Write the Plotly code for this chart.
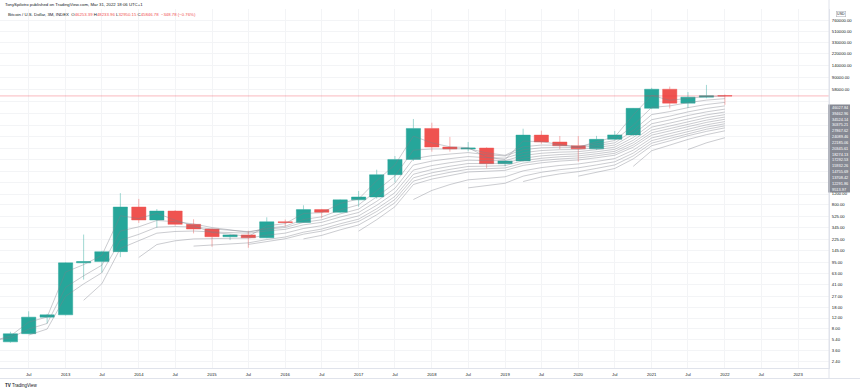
import plotly.graph_objects as go

# ---------------- data (quarterly candles, INDEX BTCUSD) ----------------
quarters = [
    "2012-04-01", "2012-07-01", "2012-10-01",
    "2013-01-01", "2013-04-01", "2013-07-01", "2013-10-01",
    "2014-01-01", "2014-04-01", "2014-07-01", "2014-10-01",
    "2015-01-01", "2015-04-01", "2015-07-01", "2015-10-01",
    "2016-01-01", "2016-04-01", "2016-07-01", "2016-10-01",
    "2017-01-01", "2017-04-01", "2017-07-01", "2017-10-01",
    "2018-01-01", "2018-04-01", "2018-07-01", "2018-10-01",
    "2019-01-01", "2019-04-01", "2019-07-01", "2019-10-01",
    "2020-01-01", "2020-04-01", "2020-07-01", "2020-10-01",
    "2021-01-01", "2021-04-01", "2021-07-01", "2021-10-01",
    "2022-01-01",
]
prior_quarter = "2012-01-01"   # bar just left of the visible area
opens = [4.95, 6.7, 12.4, 13.5, 93, 97.5, 141, 740, 457, 638, 389, 327, 246, 263,
         236, 428, 416, 673, 609, 966, 1074, 2460, 4330, 13700, 6870, 6380, 6620,
         3700, 4100, 10700, 8280, 7200, 6420, 9140, 10780, 28900, 58800, 35050,
         43800, 46253.39]
highs = [7.2, 15.4, 14.0, 95, 266, 146, 1240, 1000, 687, 660, 470, 330, 269, 307,
         505, 465, 789, 690, 980, 1343, 2960, 4920, 19470, 16950, 10000, 8280, 6800,
         4150, 13550, 12600, 10350, 10350, 10400, 12440, 29300, 61800, 64850, 52900,
         69000, 48233.96]
lows = [4.8, 6.6, 9.8, 13.2, 50, 65, 115, 410, 343, 370, 278, 169, 217, 163,
        232, 360, 412, 487, 598, 748, 1010, 1855, 4100, 5780, 5780, 5850, 3120,
        3360, 4050, 7770, 6380, 3990, 6180, 8900, 10370, 28100, 28800, 29300,
        42000, 32950]
closes = [6.7, 12.4, 13.5, 93, 97.5, 141, 740, 457, 638, 389, 327, 246, 263, 236,
          428, 416, 673, 609, 966, 1074, 2460, 4330, 13700, 6870, 6380, 6620, 3700,
          4100, 10700, 8280, 7200, 6420, 9140, 10780, 28900, 58800, 35050, 43800,
          46195.56, 45846.78]

# EMA ribbon (lengths 2, 5, 8, ... 44), values read per bar; each list ends at the last bar
ema2 = [5.09, 6.16, 10.32, 12.44, 66.15, 87.05, 123.0, 534.3, 482.8, 586.3, 454.8, 369.6,
        287.2, 271.1, 247.7, 367.9, 400.0, 582.0, 600.0, 844.0, 997.3, 1972, 3544, 10315,
        8018, 6926, 6722, 4707, 4302, 8568, 8376, 7592, 6811, 8364, 9975, 22592, 46731,
        38944, 42181, 44858, 45517]
ema5 = [5.23, 5.72, 7.95, 9.80, 37.53, 57.52, 85.35, 303.6, 354.7, 449.1, 429.1, 395.1,
        345.4, 317.9, 290.6, 336.4, 362.9, 466.3, 513.9, 664.6, 801.1, 1354, 2346, 6131,
        6377, 6378, 6459, 5539, 5059, 6940, 7386, 7324, 7023, 7729, 8746, 15464, 29909,
        31623, 35682, 39187, 41407]
ema8 = [6.37, 7.96, 26.86, 42.55, 64.43, 214.6, 268.4, 350.6, 359.1, 352.0, 328.4, 313.9,
        296.6, 325.8, 345.8, 418.5, 460.9, 573.1, 684.4, 1079, 1801, 4446, 4984, 5295,
        5589, 5169, 4932, 6214, 6673, 6790, 6708, 7248, 8033, 12670, 22921, 25617, 29657,
        33333, 36114]
ema11 = [23.18, 42.82, 159.0, 208.7, 280.2, 298.4, 303.1, 293.6, 288.5, 279.8, 304.5,
         323.1, 381.4, 419.3, 510.4, 604.4, 913.6, 1483, 3519, 4078, 4461, 4821, 4634,
         4545, 5571, 6023, 6219, 6252, 6734, 7408, 10990, 18958, 21640, 25334, 28811, 31650]
ema14 = [113.8, 183.7, 211.1, 226.5, 229.1, 233.6, 234.0, 259.8, 280.6, 333.0, 369.8,
         449.3, 532.6, 789.6, 1262, 2920, 3447, 3838, 4209, 4141, 4136, 5011, 5447, 5681,
         5779, 6227, 6834, 9776, 16313, 18811, 22143, 25350, 28083]
ema17 = [173.4, 181.4, 190.5, 195.5, 221.4, 243.0, 290.8, 326.1, 397.2, 472.4, 693.3,
         1097, 2498, 2983, 3361, 3723, 3720, 3763, 4533, 4950, 5200, 5335, 5758, 6316,
         8825, 14378, 16675, 19689, 22634, 25213]
ema20 = [184.6, 207.8, 227.6, 270.0, 302.3, 365.5, 433.0, 626.0, 978.8, 2190, 2636, 2993,
         3338, 3373, 3442, 4133, 4528, 4782, 4938, 5339, 5857, 8051, 12885, 14996, 17739,
         20449, 22868]
ema23 = [226.5, 258.4, 317.3, 380.4, 553.7, 868.4, 1938, 2349, 2685, 3013, 3070, 3156,
         3784, 4159, 4412, 4580, 4960, 5445, 7399, 11683, 13630, 16144, 18649, 20915]
ema26 = [302.2, 462.1, 748.6, 1708, 2090, 2408, 2720, 2793, 2889, 3468, 3824, 4075, 4248,
         4611, 5068, 6833, 10682, 12487, 14807, 17132, 19259]
ema29 = [977.5, 1370, 1704, 2032, 2143, 2274, 2835, 3198, 3465, 3662, 4027, 4478, 6106,
         9619, 11314, 13480, 15661, 17673]
ema32 = [1507, 1640, 1789, 2329, 2690, 2963, 3172, 3534, 3973, 5484, 8715, 10311, 12341,
         14393, 16299]
ema35 = [1906, 2260, 2535, 2751, 3106, 3532, 4941, 7933, 9440, 11349, 13285, 15094]
ema38 = [2332, 2681, 3097, 4420, 7208, 8636, 10440, 12273, 13995]
ema41 = [3352, 5993, 7376, 9111, 10877, 12542]
ema44 = [6252, 8027, 9708]
ribbon = [ema2, ema5, ema8, ema11, ema14, ema17, ema20, ema23, ema26, ema29, ema32,
          ema35, ema38, ema41, ema44]

# price-scale grid levels and their labels (labels under the value boxes stay blank)
y_ticks = [2.4, 3.6, 5.4, 8, 12, 18, 27, 41, 63, 95, 145, 225, 345, 525, 800, 1200,
           1850, 2800, 4300, 6600, 10000, 15000, 24000, 37000, 58000, 90000,
           140000, 220000, 330000, 510000, 760000, 1160000]
y_tick_text = ["" if 1200 < v < 58000 else "%.2f" % v for v in y_ticks]

# time-scale tick labels
x_ticks = ["2012-07-01"] + [f"{y}-{m}-01" for y in range(2013, 2024) for m in ("01", "07")][:-1]
x_tick_text = ["Jul" if t.endswith("07-01") else t[:4] for t in x_ticks]

# indicator value labels on the price scale
ma_labels = ["46027.84", "39462.96", "34524.14", "30375.21", "27867.62", "24089.46",
             "22185.06", "20345.61", "18274.13", "17292.53", "15932.26", "14755.69",
             "13708.42", "12291.86", "9513.97"]
last_price = 45846.78

# ---------------- layout helpers ----------------
W, H = 860, 391
ML, MR, MT, MB = 0, 31, 9, 23
PW, PH = W - ML - MR, H - MT - MB


def px(x):
    return (x - ML) / PW


def py(y):
    return (H - MB - y) / PH


UP, DOWN = "#26a69a", "#ef5350"
FONT = "Liberation Sans"

fig = go.Figure()

all_dates = [prior_quarter] + quarters
for vals in ribbon:
    fig.add_trace(go.Scatter(
        x=all_dates[len(all_dates) - len(vals):], y=vals, mode="lines",
        line=dict(color="rgba(125,128,138,0.5)", width=0.8),
        showlegend=False, hoverinfo="skip",
    ))

fig.add_trace(go.Candlestick(
    x=quarters, open=opens, high=highs, low=lows, close=closes,
    increasing=dict(fillcolor=UP, line=dict(color="rgba(38,166,154,0.55)", width=0.8)),
    decreasing=dict(fillcolor=DOWN, line=dict(color="rgba(239,83,80,0.55)", width=0.8)),
    whiskerwidth=0, showlegend=False, hoverinfo="skip",
))

# last price line
fig.add_hline(y=last_price, line=dict(color="rgba(242,54,69,0.35)", width=1))

shapes = [
    dict(type="rect", xref="paper", yref="paper", x0=px(828), x1=px(850),
         y0=py(104.5), y1=py(93.5), fillcolor="#f23645", line=dict(width=0), layer="above"),
    dict(type="rect", xref="paper", yref="paper", x0=px(828), x1=px(850),
         y0=py(192.5), y1=py(104.5), fillcolor="#868993", line=dict(width=0), layer="above"),
    dict(type="line", xref="paper", yref="paper", x0=0, x1=px(860), y0=py(378.5), y1=py(378.5),
         line=dict(color="#e0e3eb", width=1), layer="above"),
    dict(type="line", xref="paper", yref="paper", x0=1, x1=1, y0=py(378.5), y1=py(0),
         line=dict(color="#e0e3eb", width=1), layer="above"),
]

annotations = [
    dict(text="TonySpilotro published on TradingView.com, Mar 31, 2022 18:06 UTC+1",
         x=px(3), y=py(5), font=dict(size=4.3, color="#131722")),
    dict(text=("Bitcoin / U.S. Dollar, 3M, INDEX  "
               "O<span style='color:#ef5350'>46253.39</span> "
               "H<span style='color:#ef5350'>48233.96</span> "
               "L<span style='color:#ef5350'>32950.15</span> "
               "C<span style='color:#ef5350'>45846.78  \u2212348.78 (\u22120.76%)</span>"),
         x=px(6), y=py(14.5), font=dict(size=4.3, color="#131722")),
    dict(text="<b>TV</b> TradingView", x=px(3), y=py(385.5),
         font=dict(size=4.5, color="#131722")),
    dict(text="USD", x=px(841.5), y=py(14.3), xanchor="center",
         font=dict(size=3.6, color="#131722"), bordercolor="#b2b5be", borderwidth=0.6,
         borderpad=0.5, bgcolor="white"),
    dict(text="%.2f" % last_price, x=px(830), y=py(96.2), font=dict(size=3.5, color="white")),
    dict(text="06:10:27", x=px(830), y=py(102.0), font=dict(size=3.5, color="white")),
]
for k, lab in enumerate(ma_labels):
    annotations.append(dict(text=lab, x=px(830), y=py(107.3 + 5.85 * k),
                            font=dict(size=3.9, color="white")))
for a in annotations:
    a.setdefault("xref", "paper")
    a.setdefault("yref", "paper")
    a.setdefault("xanchor", "left")
    a.setdefault("yanchor", "middle")
    a.setdefault("showarrow", False)
    a.setdefault("font", {})
    a["font"].setdefault("family", FONT)

fig.update_layout(
    width=W, height=H,
    margin=dict(l=ML, r=MR, t=MT, b=MB, pad=0),
    paper_bgcolor="white", plot_bgcolor="white",
    boxgap=0.21, boxgroupgap=0,
    font=dict(family=FONT, size=4, color="#131722"),
    shapes=shapes, annotations=annotations,
    xaxis=dict(type="date", range=["2012-02-09", "2023-06-04"],
               tickmode="array", tickvals=x_ticks, ticktext=x_tick_text,
               showgrid=True, gridcolor="#f3f4f6", gridwidth=1,
               showline=True, linecolor="#e0e3eb", linewidth=1,
               ticks="", ticklabelstandoff=2, tickfont=dict(size=4.2, color="#131722"),
               rangeslider=dict(visible=False), fixedrange=True, zeroline=False),
    yaxis=dict(type="log", side="right", range=[0.273, 6.063],
               tickmode="array", tickvals=y_ticks, ticktext=y_tick_text,
               showgrid=True, gridcolor="#f3f4f6", gridwidth=1,
               showline=True, linecolor="#e0e3eb", linewidth=1,
               ticks="outside", ticklen=1, tickcolor="rgba(0,0,0,0)",
               tickfont=dict(size=4.2, color="#131722"), zeroline=False),
    showlegend=False,
)

fig.write_html("out.html", config={"displayModeBar": False},
               post_script="document.body.style.margin='0';document.body.style.overflow='hidden';")
